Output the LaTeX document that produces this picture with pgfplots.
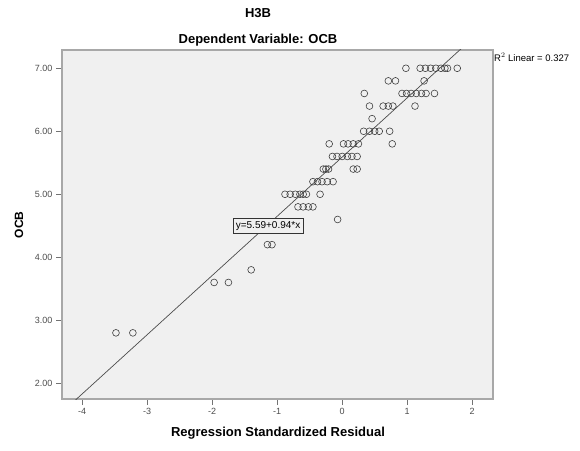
\documentclass[border=0pt]{standalone}
\usepackage{pgfplots}
\pgfplotsset{compat=1.18}
\usepackage{fontspec}
\setmainfont{Liberation Sans}
\definecolor{bggray}{HTML}{F0F0F0}
\definecolor{framegray}{HTML}{A8A8A8}

\begin{document}
\begin{tikzpicture}
\useasboundingbox (0,0) rectangle (580pt,450pt);
% titles and axis names
\node[font=\fontsize{13}{15}\selectfont\bfseries] at (258pt,437pt) {H3B};
\node[font=\fontsize{13}{15}\selectfont\bfseries] at (258pt,410pt) {Dependent Variable: OCB};
\node[font=\fontsize{13}{15}\selectfont\bfseries] at (278pt,17pt) {Regression Standardized Residual};
\node[font=\fontsize{12}{14}\selectfont\bfseries, rotate=90] at (19pt,225pt) {OCB};
\node[font=\fontsize{9.5}{11}\selectfont, anchor=west, inner sep=0pt] at (494pt,393pt) {R$^2$ Linear = 0.327};

\begin{axis}[
    at={(62pt,51pt)}, anchor=south west,
    scale only axis, width=431pt, height=349pt,
    xmin=-4.31, xmax=2.32, ymin=1.75, ymax=7.29,
    xtick={-4,-3,-2,-1,0,1,2},
    ytick={2,3,4,5,6,7},
    yticklabel style={/pgf/number format/.cd, fixed, fixed zerofill, precision=2},
    /pgf/number format/assume math mode=true,
    ticklabel style={font=\fontsize{9}{10}\selectfont, text=black!70},
    tick pos=left, tick align=outside, major tick length=6pt,
    tick style={black!55, line width=0.7pt},
    axis background/.style={fill=bggray},
    axis line style={framegray, line width=1.6pt},
    clip=true,
]
% fitted line y = 5.59 + 0.94 x, end points at the axis limits
\addplot[black!70, line width=0.7pt] coordinates {(-4.31,1.539) (2.32,7.771)};

\addplot[only marks, mark=o, mark size=3.4pt, black!75, mark options={line width=0.6pt}] coordinates {
 (0.98,7.0) (1.20,7.0) (1.28,7.0) (1.36,7.0) (1.44,7.0) (1.52,7.0) (1.58,7.0) (1.62,7.0) (1.77,7.0)
 (0.71,6.8) (0.82,6.8) (1.26,6.8)
 (0.34,6.6) (0.92,6.6) (0.99,6.6) (1.06,6.6) (1.14,6.6) (1.22,6.6) (1.29,6.6) (1.42,6.6)
 (0.42,6.4) (0.63,6.4) (0.71,6.4) (0.78,6.4) (1.12,6.4)
 (0.46,6.2)
 (0.33,6.0) (0.42,6.0) (0.50,6.0) (0.57,6.0) (0.73,6.0)
 (-0.20,5.8) (0.02,5.8) (0.09,5.8) (0.17,5.8) (0.25,5.8) (0.77,5.8)
 (-0.15,5.6) (-0.08,5.6) (0.00,5.6) (0.08,5.6) (0.15,5.6) (0.23,5.6)
 (-0.29,5.4) (-0.25,5.4) (-0.21,5.4) (0.17,5.4) (0.23,5.4)
 (-0.45,5.2) (-0.38,5.2) (-0.31,5.2) (-0.23,5.2) (-0.14,5.2)
 (-0.88,5.0) (-0.80,5.0) (-0.72,5.0) (-0.65,5.0) (-0.60,5.0) (-0.55,5.0) (-0.34,5.0)
 (-0.68,4.8) (-0.60,4.8) (-0.52,4.8) (-0.45,4.8)
 (-0.07,4.6)
 (-1.15,4.2) (-1.08,4.2)
 (-1.40,3.8)
 (-1.97,3.6) (-1.75,3.6)
 (-3.48,2.8) (-3.22,2.8)
};

\node[draw=black!80, fill=bggray, line width=0.6pt, inner sep=3pt,
      font=\fontsize{10}{11}\selectfont] at (axis cs:-1.14,4.5) {y=5.59+0.94*x};
\end{axis}
\end{tikzpicture}
\end{document}
